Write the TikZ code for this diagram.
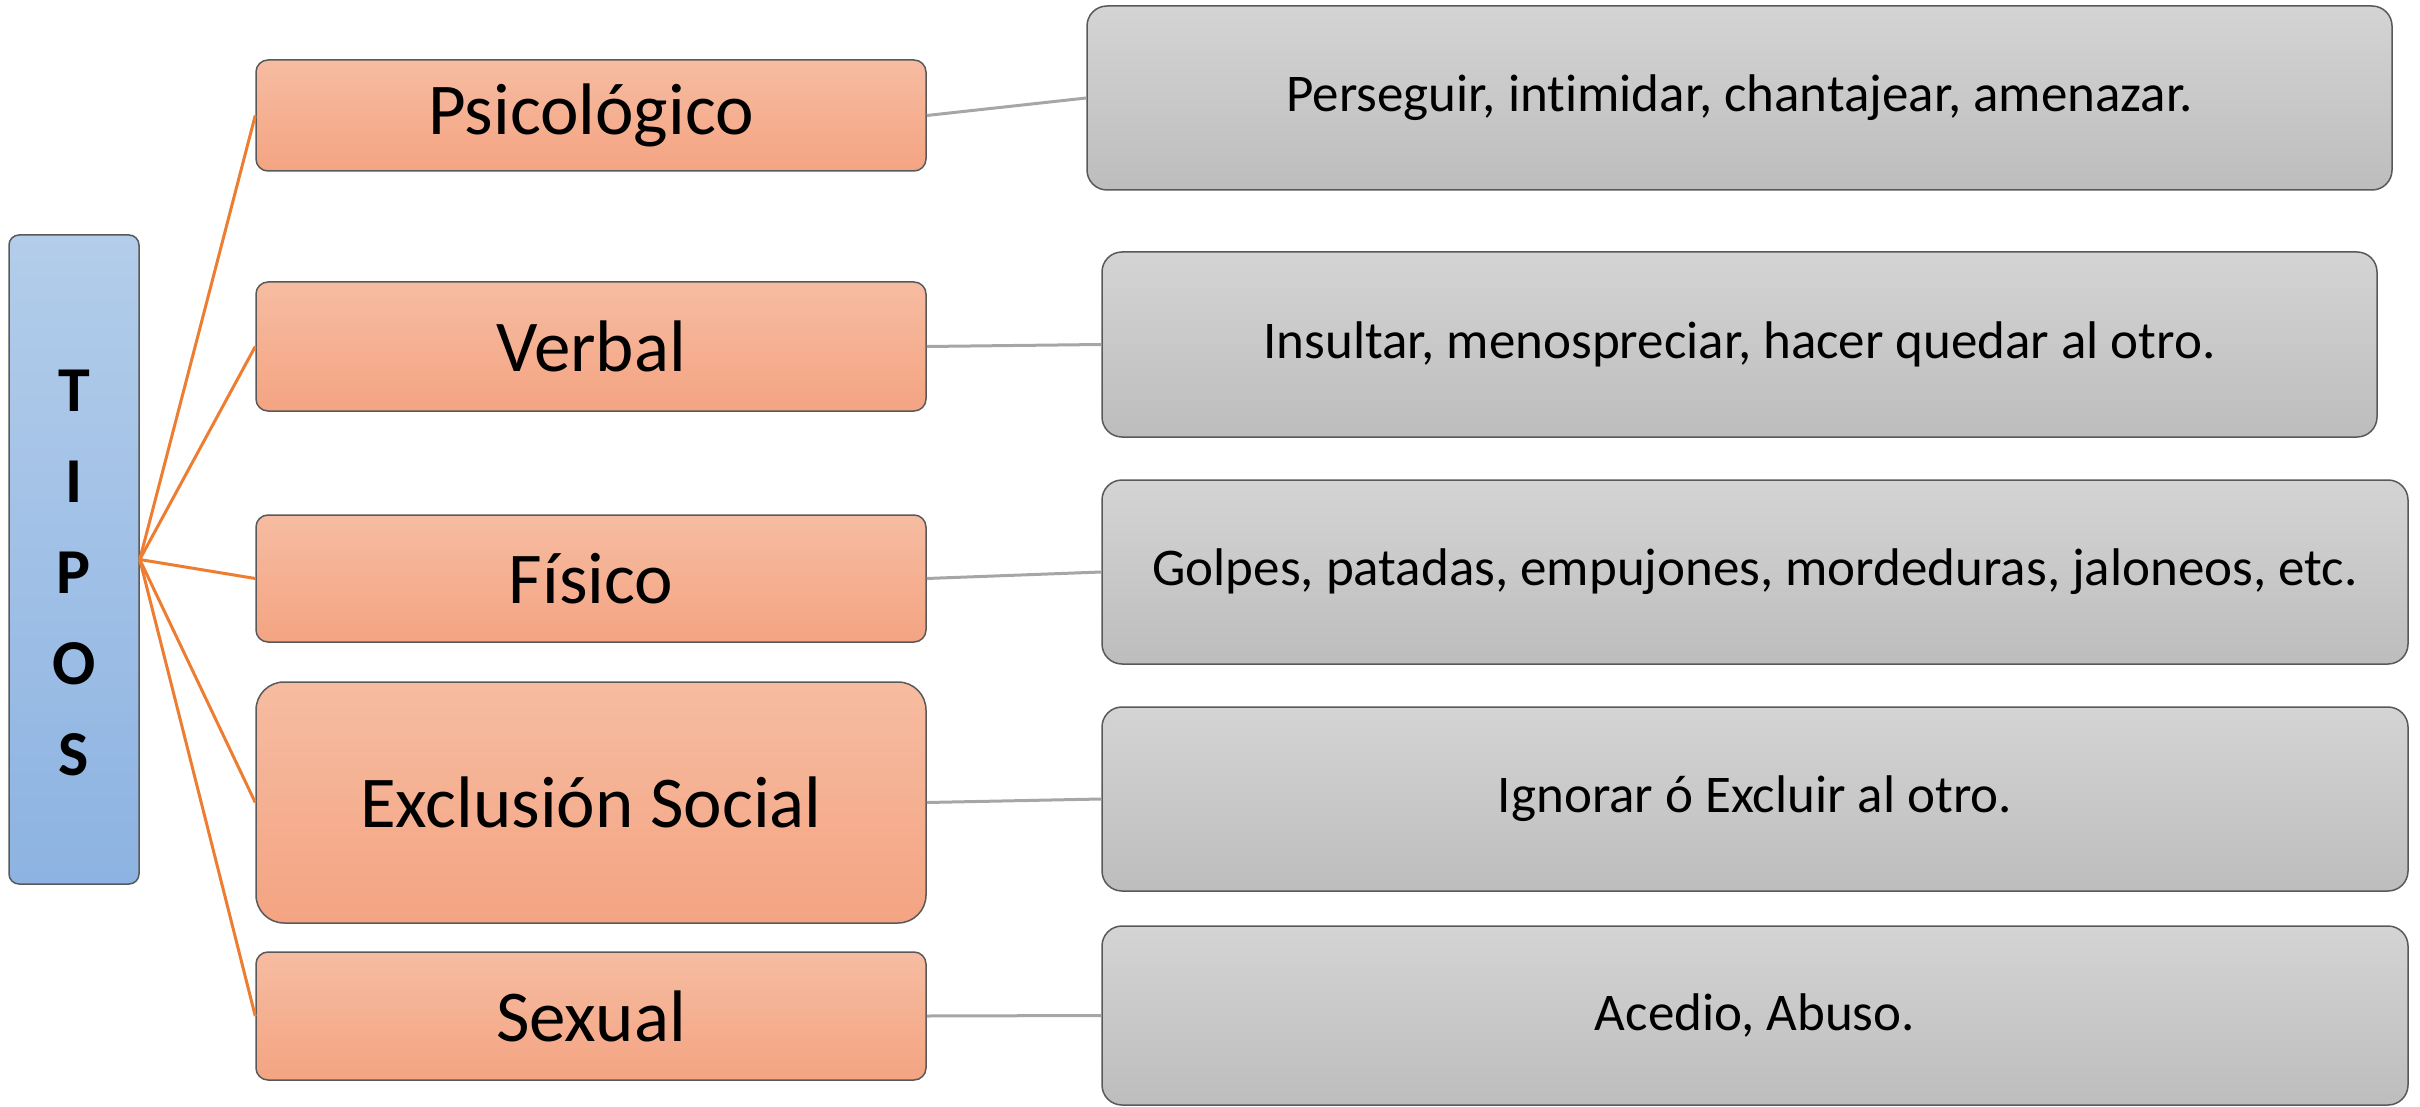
\documentclass[tikz,border=0pt]{standalone}
\usepackage{fontspec}
\setmainfont[Ligatures=NoCommon]{Carlito}
\definecolor{oline}{HTML}{ED7D31}
\definecolor{gline}{HTML}{A6A6A6}
\definecolor{otop}{HTML}{F6BCA1}
\definecolor{obot}{HTML}{F4A482}
\definecolor{gtop}{HTML}{D4D4D4}
\definecolor{gbot}{HTML}{BDBDBD}
\definecolor{btop}{HTML}{B3CDEA}
\definecolor{bbot}{HTML}{8DB3E2}
\definecolor{bord}{HTML}{595959}
\tikzset{
  boxbase/.style={draw=bord, line width=1.5pt, inner sep=0pt, align=center, text=black},
  obox/.style={boxbase, top color=otop, bottom color=obot, rounded corners=12pt,
    minimum width=670pt, font=\fontsize{73}{88}\selectfont},
  gbox/.style={boxbase, top color=gtop, bottom color=gbot, rounded corners=20pt,
    font=\fontsize{53}{64}\selectfont},
  bbox/.style={boxbase, top color=btop, bottom color=bbot, rounded corners=10pt},
  blabel/.style={inner sep=0pt, align=center, text=black,
    font=\fontsize{64}{91}\selectfont\bfseries},
  oconn/.style={draw=oline, line width=3pt},
  gconn/.style={draw=gline, line width=3pt},
}
\begin{document}
\begin{tikzpicture}[x=1pt,y=-1pt]
\useasboundingbox (0,0) rectangle (2420,1107);
\node[bbox, minimum width=130pt, minimum height=649pt] (tipos) at (74,559.5) {};
\node[blabel] (tiposlbl) at (74,573) {T\\I\\P\\O\\S};
\node[obox, minimum height=111pt] (psi) at (591,115.5) {Psicológico};
\node[obox, minimum height=129pt] (ver) at (591,346.5) {Verbal};
\node[obox, minimum height=127pt] (fis) at (591,578.5) {Físico};
\node[obox, minimum height=241pt, rounded corners=28pt] (exc) at (591,802.5) {Exclusión Social};
\node[obox, minimum height=128pt] (sex) at (591,1016) {Sexual};
\node[gbox, minimum width=1305pt, minimum height=184pt] (g1) at (1739.5,98) {Perseguir, intimidar, chantajear, amenazar.};
\node[gbox, minimum width=1275pt, minimum height=185pt] (g2) at (1739.5,344.5) {Insultar, menospreciar, hacer quedar al otro.};
\node[gbox, minimum width=1306pt, minimum height=184pt] (g3) at (1755,572) {Golpes, patadas, empujones, mordeduras, jaloneos, etc.};
\node[gbox, minimum width=1306pt, minimum height=184pt] (g4) at (1755,799) {Ignorar ó Excluir al otro.};
\node[gbox, minimum width=1306pt, minimum height=179pt] (g5) at (1755,1015.5) {Acedio, Abuso.};
\foreach \n in {psi,ver,fis,exc,sex}
  \draw[oconn] (tipos.east) -- (\n.west);
\draw[gconn] (psi.east) -- (g1.west);
\draw[gconn] (ver.east) -- (g2.west);
\draw[gconn] (fis.east) -- (g3.west);
\draw[gconn] (exc.east) -- (g4.west);
\draw[gconn] (sex.east) -- (g5.west);
\end{tikzpicture}
\end{document}
